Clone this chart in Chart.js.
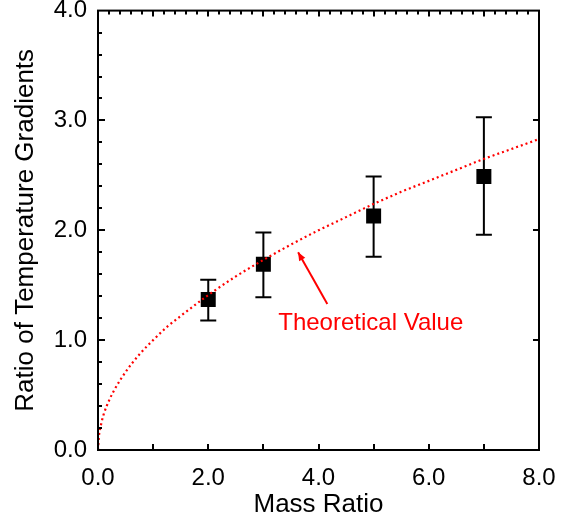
<!DOCTYPE html>
<html>
<head>
<meta charset="utf-8">
<script src="https://cdn.jsdelivr.net/npm/chart.js@4"></script>
<style>
  html, body { margin: 0; padding: 0; background: #ffffff; }
  #wrap { width: 573px; height: 524px; }
</style>
</head>
<body>
<div id="wrap"><canvas id="chart" width="573" height="524"></canvas></div>
<script>
// --- Data ---
const massRatio = [2, 3, 5, 7];
const gradientRatio = [1.37, 1.69, 2.13, 2.49];
const errLow = [1.18, 1.39, 1.76, 1.96];
const errHigh = [1.55, 1.98, 2.49, 3.03];

const theoryX = [0, 0.02, 0.05, 0.1, 0.2, 0.3, 0.5, 0.75, 1, 1.25, 1.5, 2, 2.5, 3, 3.5, 4, 4.5, 5, 5.5, 6, 6.5, 7, 7.5, 8];
const theoryY = [0, 0.14, 0.22, 0.32, 0.45, 0.55, 0.71, 0.87, 1.0, 1.12, 1.22, 1.41, 1.58, 1.73, 1.87, 2.0, 2.12, 2.24, 2.35, 2.45, 2.55, 2.65, 2.74, 2.83];

const xTicks = [0, 2, 4, 6, 8];
const yTicks = [0, 1, 2, 3, 4];

const annotationText = 'Theoretical Value';
const annotationPos = { x: 3.27, y: 1.09 };
const arrowFrom = { x: 4.16, y: 1.33 };
const arrowTo = { x: 3.63, y: 1.80 };

// --- Fonts / colours ---
const fontFamily = '"Liberation Sans", Arial, sans-serif';
const red = '#ff0000';

// --- Plugin: frame, inward ticks, error bars, annotation ---
const framePlugin = {
    id: 'frame',
    beforeDatasetsDraw(chart) {
        const ctx = chart.ctx;
        const xs = chart.scales.x, ys = chart.scales.y;
        // error bars (drawn under the squares)
        ctx.save();
        ctx.strokeStyle = '#000';
        ctx.lineWidth = 2;
        for (let i = 0; i < massRatio.length; i++) {
            const px = xs.getPixelForValue(massRatio[i]);
            const lo = ys.getPixelForValue(errLow[i]);
            const hi = ys.getPixelForValue(errHigh[i]);
            ctx.beginPath();
            ctx.moveTo(px, lo); ctx.lineTo(px, hi);
            ctx.moveTo(px - 8, lo); ctx.lineTo(px + 8, lo);
            ctx.moveTo(px - 8, hi); ctx.lineTo(px + 8, hi);
            ctx.stroke();
        }
        ctx.restore();
    },
    afterDatasetsDraw(chart) {
        const ctx = chart.ctx;
        const a = chart.chartArea;
        const xs = chart.scales.x, ys = chart.scales.y;
        ctx.save();
        ctx.strokeStyle = '#000';
        ctx.lineWidth = 2;
        ctx.strokeRect(a.left, a.top, a.right - a.left, a.bottom - a.top);

        ctx.beginPath();
        // bottom: ticks every 1.0
        for (let v = 1; v < 8; v += 1) {
            const px = Math.round(xs.getPixelForValue(v));
            ctx.moveTo(px, a.bottom); ctx.lineTo(px, a.bottom - 6);
        }
        // top: minor every 0.2, major every 1.0
        for (let k = 1; k < 40; k++) {
            const px = Math.round(xs.getPixelForValue(k * 0.2));
            const len = k % 5 === 0 ? 6 : 4;
            ctx.moveTo(px, a.top); ctx.lineTo(px, a.top + len);
        }
        // left: minor every 0.2, major every 1.0
        for (let k = 1; k < 20; k++) {
            const py = Math.round(ys.getPixelForValue(k * 0.2));
            const len = k % 5 === 0 ? 7 : 4;
            ctx.moveTo(a.left, py); ctx.lineTo(a.left + len, py);
        }
        // right: major only
        for (let v = 1; v < 4; v++) {
            const py = Math.round(ys.getPixelForValue(v));
            ctx.moveTo(a.right, py); ctx.lineTo(a.right - 6, py);
        }
        ctx.stroke();

        // annotation arrow
        const fx = xs.getPixelForValue(arrowFrom.x), fy = ys.getPixelForValue(arrowFrom.y);
        const tx = xs.getPixelForValue(arrowTo.x), ty = ys.getPixelForValue(arrowTo.y);
        ctx.strokeStyle = red;
        ctx.fillStyle = red;
        ctx.lineWidth = 2;
        ctx.beginPath();
        ctx.moveTo(fx, fy); ctx.lineTo(tx, ty);
        ctx.stroke();
        const ang = Math.atan2(ty - fy, tx - fx);
        const head = 9;
        ctx.beginPath();
        ctx.moveTo(tx, ty);
        ctx.lineTo(tx - head * Math.cos(ang - 0.4), ty - head * Math.sin(ang - 0.4));
        ctx.lineTo(tx - head * Math.cos(ang + 0.4), ty - head * Math.sin(ang + 0.4));
        ctx.closePath();
        ctx.fill();

        // annotation text
        ctx.font = '24px ' + fontFamily;
        ctx.textAlign = 'left';
        ctx.textBaseline = 'alphabetic';
        ctx.fillText(annotationText, xs.getPixelForValue(annotationPos.x), ys.getPixelForValue(annotationPos.y));
        ctx.restore();
    }
};

const ctx = document.getElementById('chart').getContext('2d');

new Chart(ctx, {
    type: 'scatter',
    data: {
        datasets: [
            {
                label: 'Theoretical Value',
                type: 'line',
                data: theoryX.map((x, i) => ({ x: x, y: theoryY[i] })),
                borderColor: red,
                borderWidth: 2.2,
                borderDash: [2, 3],
                pointRadius: 0,
                tension: 0.4,
                cubicInterpolationMode: 'monotone',
                fill: false,
                order: 0
            },
            {
                label: 'Measured',
                data: massRatio.map((x, i) => ({ x: x, y: gradientRatio[i] })),
                pointStyle: 'rect',
                pointRadius: 10.6,
                pointHoverRadius: 10.6,
                backgroundColor: '#000',
                borderColor: '#000',
                borderWidth: 0,
                order: 1
            }
        ]
    },
    options: {
        responsive: false,
        maintainAspectRatio: false,
        animation: false,
        events: [],
        layout: {
            padding: { left: 0, right: 34, top: 9, bottom: 0 }
        },
        plugins: {
            legend: { display: false },
            tooltip: { enabled: false }
        },
        scales: {
            x: {
                type: 'linear',
                min: 0,
                max: 8,
                grid: { display: false, drawTicks: false },
                border: { display: false },
                afterBuildTicks: (scale) => { scale.ticks = xTicks.map(v => ({ value: v })); },
                afterFit: (scale) => {
                    scale.height = 74;
                    scale.paddingLeft = 0;
                    scale.paddingRight = 0;
                },
                ticks: {
                    color: '#000',
                    padding: 14,
                    maxRotation: 0,
                    font: { family: fontFamily, size: 24 },
                    callback: (v) => Number(v).toFixed(1)
                },
                title: {
                    display: true,
                    text: 'Mass Ratio',
                    color: '#000',
                    padding: { top: 0, bottom: 4 },
                    font: { family: fontFamily, size: 26 }
                }
            },
            y: {
                type: 'linear',
                min: 0,
                max: 4,
                grid: { display: false, drawTicks: false },
                border: { display: false },
                afterBuildTicks: (scale) => { scale.ticks = yTicks.map(v => ({ value: v })); },
                afterFit: (scale) => {
                    scale.width = 98;
                    scale.paddingTop = 0;
                    scale.paddingBottom = 0;
                },
                ticks: {
                    color: '#000',
                    padding: 11,
                    font: { family: fontFamily, size: 24 },
                    callback: (v) => Number(v).toFixed(1)
                },
                title: {
                    display: true,
                    text: 'Ratio of Temperature Gradients',
                    color: '#000',
                    padding: { top: 10, bottom: 0 },
                    font: { family: fontFamily, size: 26 }
                }
            }
        }
    },
    plugins: [framePlugin]
});
</script>
</body>
</html>
